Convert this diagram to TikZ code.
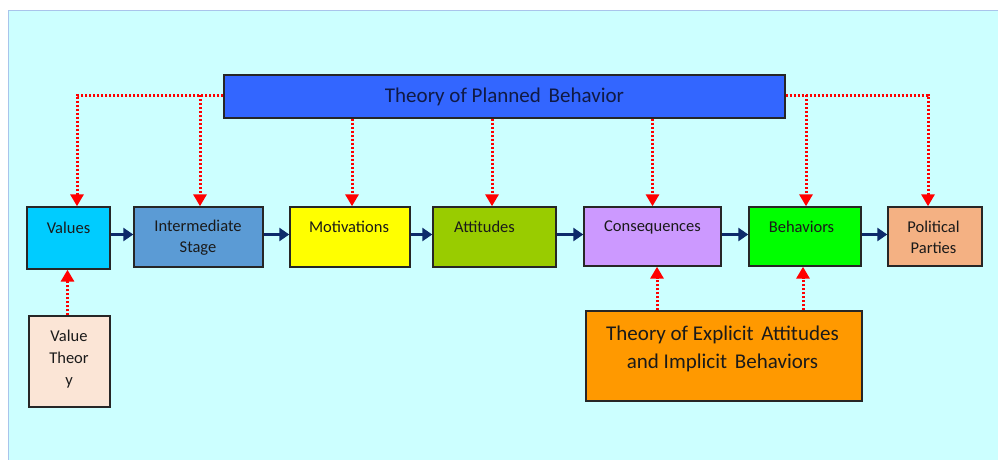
\documentclass[tikz,border=0pt]{standalone}
\usepackage{fontspec}
\setmainfont{Carlito}
\usetikzlibrary{arrows.meta}

\definecolor{canvas}{HTML}{CCFFFF}
\definecolor{canvasedge}{HTML}{A9C4EB}
\definecolor{tpbblue}{HTML}{3366FF}
\definecolor{valcyan}{HTML}{00CCFF}
\definecolor{interblue}{HTML}{5B9BD5}
\definecolor{motivyellow}{HTML}{FFFF00}
\definecolor{attgreen}{HTML}{99CC00}
\definecolor{conslilac}{HTML}{CC99FF}
\definecolor{behgreen}{HTML}{00FF00}
\definecolor{polpeach}{HTML}{F4B183}
\definecolor{vtpeach}{HTML}{FBE5D6}
\definecolor{eaorange}{HTML}{FF9900}
\definecolor{navyarrow}{HTML}{0D2A6B}
\definecolor{boxedge}{HTML}{262626}
\definecolor{textdark}{HTML}{1A1A1A}
\definecolor{titletext}{HTML}{101A45}

\begin{document}
\begin{tikzpicture}[x=1pt, y=-1pt,
  box/.style={draw=boxedge, line width=1.4pt, inner sep=0pt},
  lbl/.style={text=textdark, font=\fontsize{16.5}{21.5}\selectfont, align=center, inner sep=0pt},
  biglbl/.style={text=textdark, font=\fontsize{21}{28}\selectfont, align=center, inner sep=0pt},
  flowarrow/.style={draw=navyarrow, line width=3pt, -{Triangle[width=13pt,length=10pt]}},
  theoryarrow/.style={draw=red, line width=3pt, dash pattern=on 2.4pt off 1.6pt,
    -{Triangle[width=13pt,length=12pt]}}
]
\useasboundingbox (0,0) rectangle (998,460);

% canvas
\fill[white] (0,0) rectangle (998,460);
\begin{scope}
  \clip (0,0) rectangle (998,460);
  \draw[canvasedge, fill=canvas, line width=1.5pt] (8.5,10.5) rectangle (1010,470);
\end{scope}

% theory boxes
\node[box, fill=tpbblue, minimum width=561pt, minimum height=43pt] (tpb) at (504.5,96.5) {};
\node[box, fill=vtpeach, minimum width=81pt, minimum height=91pt] (vt) at (69.5,361.5) {};
\node[box, fill=eaorange, minimum width=276pt, minimum height=90pt] (ea) at (724,356) {};

% main chain
\node[box, fill=valcyan, minimum width=83pt, minimum height=62pt] (values) at (68.5,238) {};
\node[box, fill=interblue, minimum width=129pt, minimum height=60pt] (inter) at (198.5,237) {};
\node[box, fill=motivyellow, minimum width=120pt, minimum height=60pt] (motiv) at (350,237) {};
\node[box, fill=attgreen, minimum width=123pt, minimum height=60pt] (att) at (494.5,237) {};
\node[box, fill=conslilac, minimum width=137pt, minimum height=59pt] (cons) at (652.5,236.5) {};
\node[box, fill=behgreen, minimum width=112pt, minimum height=59pt] (beh) at (805,236.5) {};
\node[box, fill=polpeach, minimum width=94pt, minimum height=59pt] (pol) at (935,236.5) {};

% labels
\node[biglbl, text=titletext] (tpb-t) at (504.5,97) {Theory of Planned\hspace{3pt} Behavior};
\node[lbl] (values-t) at (68.5,228) {Values};
\node[lbl] (inter-t) at (198,237.5) {Intermediate\\Stage};
\node[lbl] (motiv-t) at (349,227) {Motivations};
\node[lbl] (att-t) at (484.5,227) {Attitudes};
\node[lbl] (cons-t) at (652.5,227) {Consequences};
\node[lbl] (beh-t) at (801.5,227) {Behaviors};
\node[lbl] (pol-t) at (933.5,237.5) {Political\\Parties};
\node[lbl, font=\fontsize{16.5}{22}\selectfont] (vt-t) at (69,359) {Value\\Theor\\y};
\node[biglbl] (ea-t) at (722.5,349) {Theory of Explicit\hspace{3pt} Attitudes\\and Implicit\hspace{3pt} Behaviors};

% flow arrows
\coordinate (row) at (0,234.5);
\draw[flowarrow] (values.east |- row) -- (inter.west |- row);
\draw[flowarrow] (inter.east |- row) -- (motiv.west |- row);
\draw[flowarrow] (motiv.east |- row) -- (att.west |- row);
\draw[flowarrow] (att.east |- row) -- (cons.west |- row);
\draw[flowarrow] (cons.east |- row) -- (beh.west |- row);
\draw[flowarrow] (beh.east |- row) -- (pol.west |- row);

% planned behavior influences
\coordinate (tpbrow) at (0,95);
\draw[theoryarrow] (tpb.west |- tpbrow) -| ([xshift=8.5pt]values.north);
\draw[theoryarrow] ([xshift=1.5pt]inter.north |- tpbrow) -- ([xshift=1.5pt]inter.north);
\draw[theoryarrow] ([xshift=2pt]motiv.north |- tpb.south) -- ([xshift=2pt]motiv.north);
\draw[theoryarrow] ([xshift=-2.5pt]att.north |- tpb.south) -- ([xshift=-2.5pt]att.north);
\draw[theoryarrow] (cons.north |- tpb.south) -- (cons.north);
\draw[theoryarrow] (tpb.east |- tpbrow) -| ([xshift=-7pt]pol.north);
\draw[theoryarrow] ([xshift=1pt]beh.north |- tpbrow) -- ([xshift=1pt]beh.north);

% value theory and explicit/implicit theory
\draw[theoryarrow] ([xshift=-2pt]vt.north) -- ([xshift=-2pt]vt.north |- values.south);
\draw[theoryarrow] ([xshift=4.5pt]cons.south |- ea.north) -- ([xshift=4.5pt]cons.south);
\draw[theoryarrow] ([xshift=-2pt]beh.south |- ea.north) -- ([xshift=-2pt]beh.south);
\end{tikzpicture}
\end{document}
